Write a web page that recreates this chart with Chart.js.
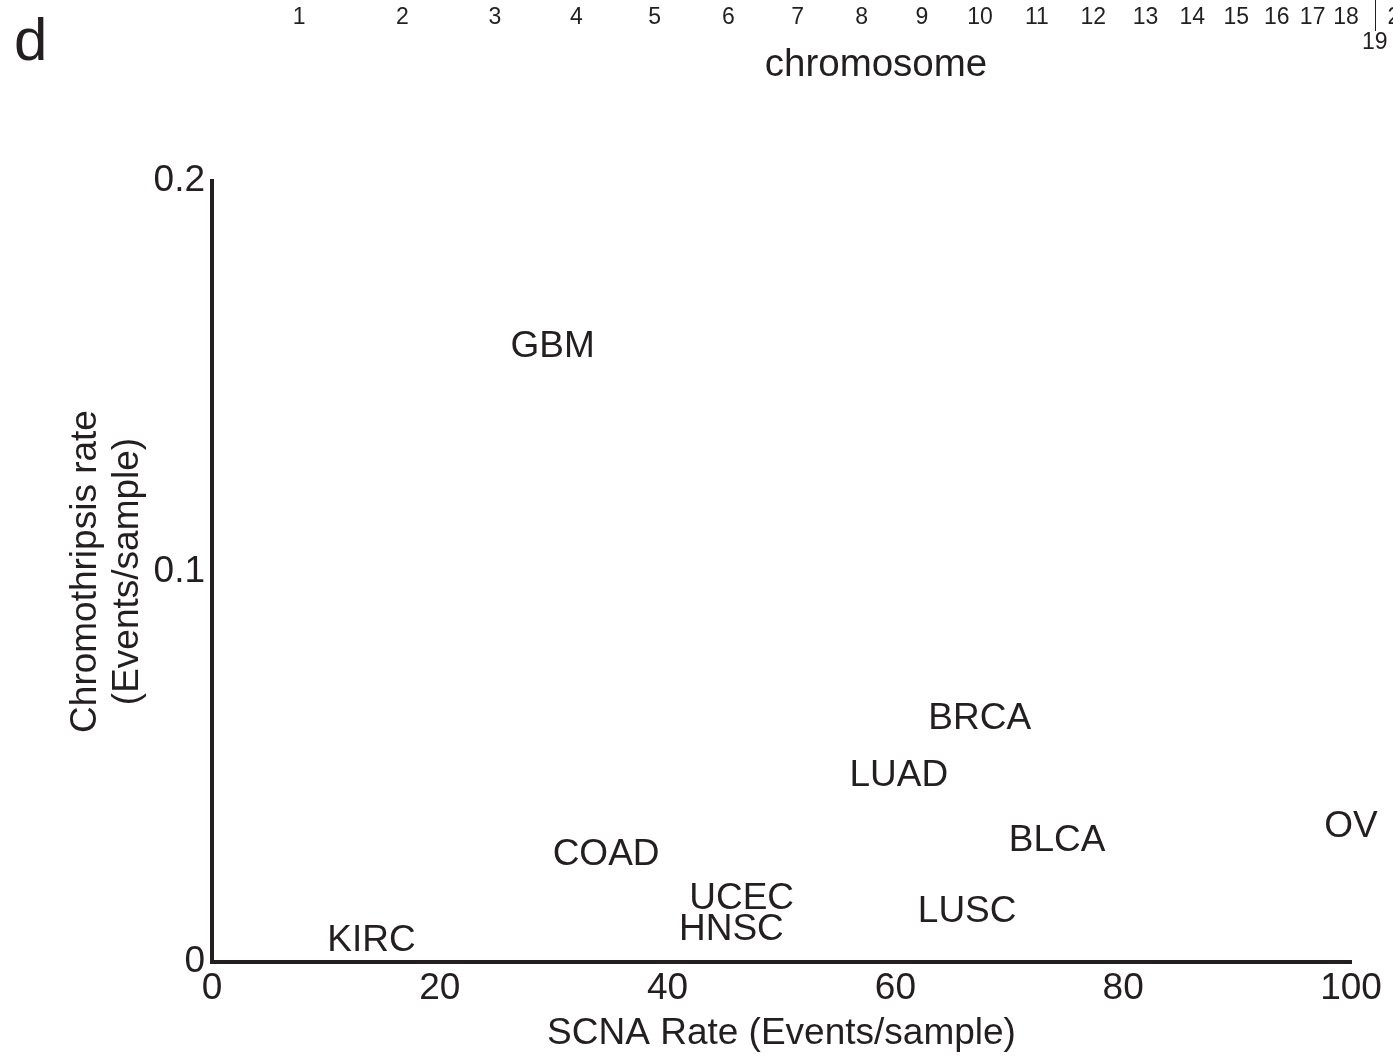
<!DOCTYPE html>
<html>
<head>
<meta charset="utf-8">
<script src="https://cdn.jsdelivr.net/npm/chart.js@4/dist/chart.umd.min.js"></script>
<style>
  html, body { margin: 0; padding: 0; background: #ffffff; }
  body { width: 1393px; height: 1058px; position: relative; overflow: hidden; font-family: "Liberation Sans", Arial, sans-serif; color: #231f20; }
  #main { position: absolute; left: 0; top: 0; }
  #strip { position: absolute; left: 0; top: 0; }
  .panel { position: absolute; left: 14px; top: 10px; font-size: 60px; line-height: 1; }
  .chromtitle { position: absolute; left: 0; width: 1752px; top: 44px; text-align: center; font-size: 38.5px; line-height: 1; }
</style>
</head>
<body>
<canvas id="main" width="1393" height="1058"></canvas>
<canvas id="strip" width="1393" height="60"></canvas>
<div class="panel">d</div>
<div class="chromtitle">chromosome</div>
<script>
// ---- data ----
const cancerTypes = ['GBM', 'BRCA', 'LUAD', 'OV', 'BLCA', 'COAD', 'UCEC', 'LUSC', 'HNSC', 'KIRC'];
const scnaRate = [29.9, 67.4, 60.3, 100, 74.2, 34.6, 46.5, 66.3, 45.6, 14.0];
const chromothripsisRate = [0.1575, 0.0622, 0.0477, 0.0345, 0.0310, 0.0275, 0.0162, 0.0128, 0.0082, 0.0055];
const xTickValues = [0, 20, 40, 60, 80, 100];
const yTickValues = [0, 0.1, 0.2];

const chromosomeNames = ['1','2','3','4','5','6','7','8','9','10','11','12','13','14','15','16','17','18','19','20','21','22'];
const chromosomeLengthsMb = [249, 243, 198, 191, 181, 171, 159, 146, 141, 136, 135, 134, 115, 107, 103, 90, 81, 78, 59, 63, 48, 51];
const staggeredChromosomes = ['19', '21'];

const INK = '#231f20';
const FONT = '"Liberation Sans", Arial, sans-serif';

// ---- main scatter chart ----
const labelPlugin = {
  id: 'textLabels',
  afterDatasetsDraw(chart) {
    const ctx = chart.ctx;
    const meta = chart.getDatasetMeta(0);
    ctx.save();
    ctx.font = '37px ' + FONT;
    ctx.fillStyle = INK;
    ctx.textAlign = 'center';
    ctx.textBaseline = 'middle';
    meta.data.forEach((el, i) => {
      ctx.fillText(cancerTypes[i], el.x, el.y);
    });
    ctx.restore();
  }
};

new Chart(document.getElementById('main'), {
  type: 'scatter',
  data: {
    datasets: [{
      data: scnaRate.map((x, i) => ({ x: x, y: chromothripsisRate[i] })),
      pointRadius: 0,
      pointHoverRadius: 0,
      clip: false
    }]
  },
  options: {
    responsive: false,
    animation: false,
    events: [],
    layout: { padding: { top: 181, right: 42, left: 0, bottom: 0 } },
    plugins: { legend: { display: false }, tooltip: { enabled: false } },
    scales: {
      x: {
        type: 'linear', min: 0, max: 100,
        afterBuildTicks: s => { s.ticks = xTickValues.map(v => ({ value: v })); },
        afterFit: s => { s.height = 96; },
        grid: { display: false, drawTicks: false },
        border: { display: true, width: 4, color: INK },
        ticks: { font: { family: FONT, size: 37 }, color: INK, padding: 5, maxRotation: 0, autoSkip: false },
        title: { display: true, text: 'SCNA Rate (Events/sample)', font: { family: FONT, size: 37 }, color: INK, padding: { top: 0, bottom: 2 } }
      },
      y: {
        type: 'linear', min: 0, max: 0.2,
        afterBuildTicks: s => { s.ticks = yTickValues.map(v => ({ value: v })); },
        afterFit: s => { s.width = 212; },
        grid: { display: false, drawTicks: false },
        border: { display: true, width: 4, color: INK },
        ticks: { font: { family: FONT, size: 37 }, color: INK, padding: 7, autoSkip: false },
        title: { display: true, text: ['Chromothripsis rate', '(Events/sample)'], font: { family: FONT, size: 37, lineHeight: 1.14 }, color: INK, padding: { top: 65, bottom: 0 } }
      }
    }
  },
  plugins: [labelPlugin]
});

// ---- chromosome strip ----
const chromStarts = [];
let acc = 0;
chromosomeLengthsMb.forEach(l => { chromStarts.push(acc); acc += l; });
const chromMids = chromosomeLengthsMb.map((l, i) => chromStarts[i] + l / 2);

const stripPlugin = {
  id: 'chromLabels',
  afterDraw(chart) {
    const ctx = chart.ctx;
    const xs = chart.scales.x;
    ctx.save();
    ctx.font = '23px ' + FONT;
    ctx.fillStyle = INK;
    ctx.strokeStyle = INK;
    ctx.lineWidth = 1;
    ctx.textAlign = 'center';
    ctx.textBaseline = 'middle';
    chromosomeNames.forEach((name, i) => {
      const px = xs.getPixelForValue(chromMids[i]);
      if (staggeredChromosomes.includes(name)) {
        ctx.beginPath();
        ctx.moveTo(Math.round(px) + 0.5, 0);
        ctx.lineTo(Math.round(px) + 0.5, 31);
        ctx.stroke();
        ctx.fillText(name, px, 43);
      } else {
        ctx.fillText(name, px, 18);
      }
    });
    ctx.restore();
  }
};

new Chart(document.getElementById('strip'), {
  type: 'scatter',
  data: { datasets: [{ data: [], pointRadius: 0 }] },
  options: {
    responsive: false,
    animation: false,
    events: [],
    layout: { padding: 0 },
    plugins: { legend: { display: false }, tooltip: { enabled: false } },
    scales: {
      x: { type: 'linear', min: -588, max: 2731, display: false },
      y: { display: false }
    }
  },
  plugins: [stripPlugin]
});
</script>
</body>
</html>
